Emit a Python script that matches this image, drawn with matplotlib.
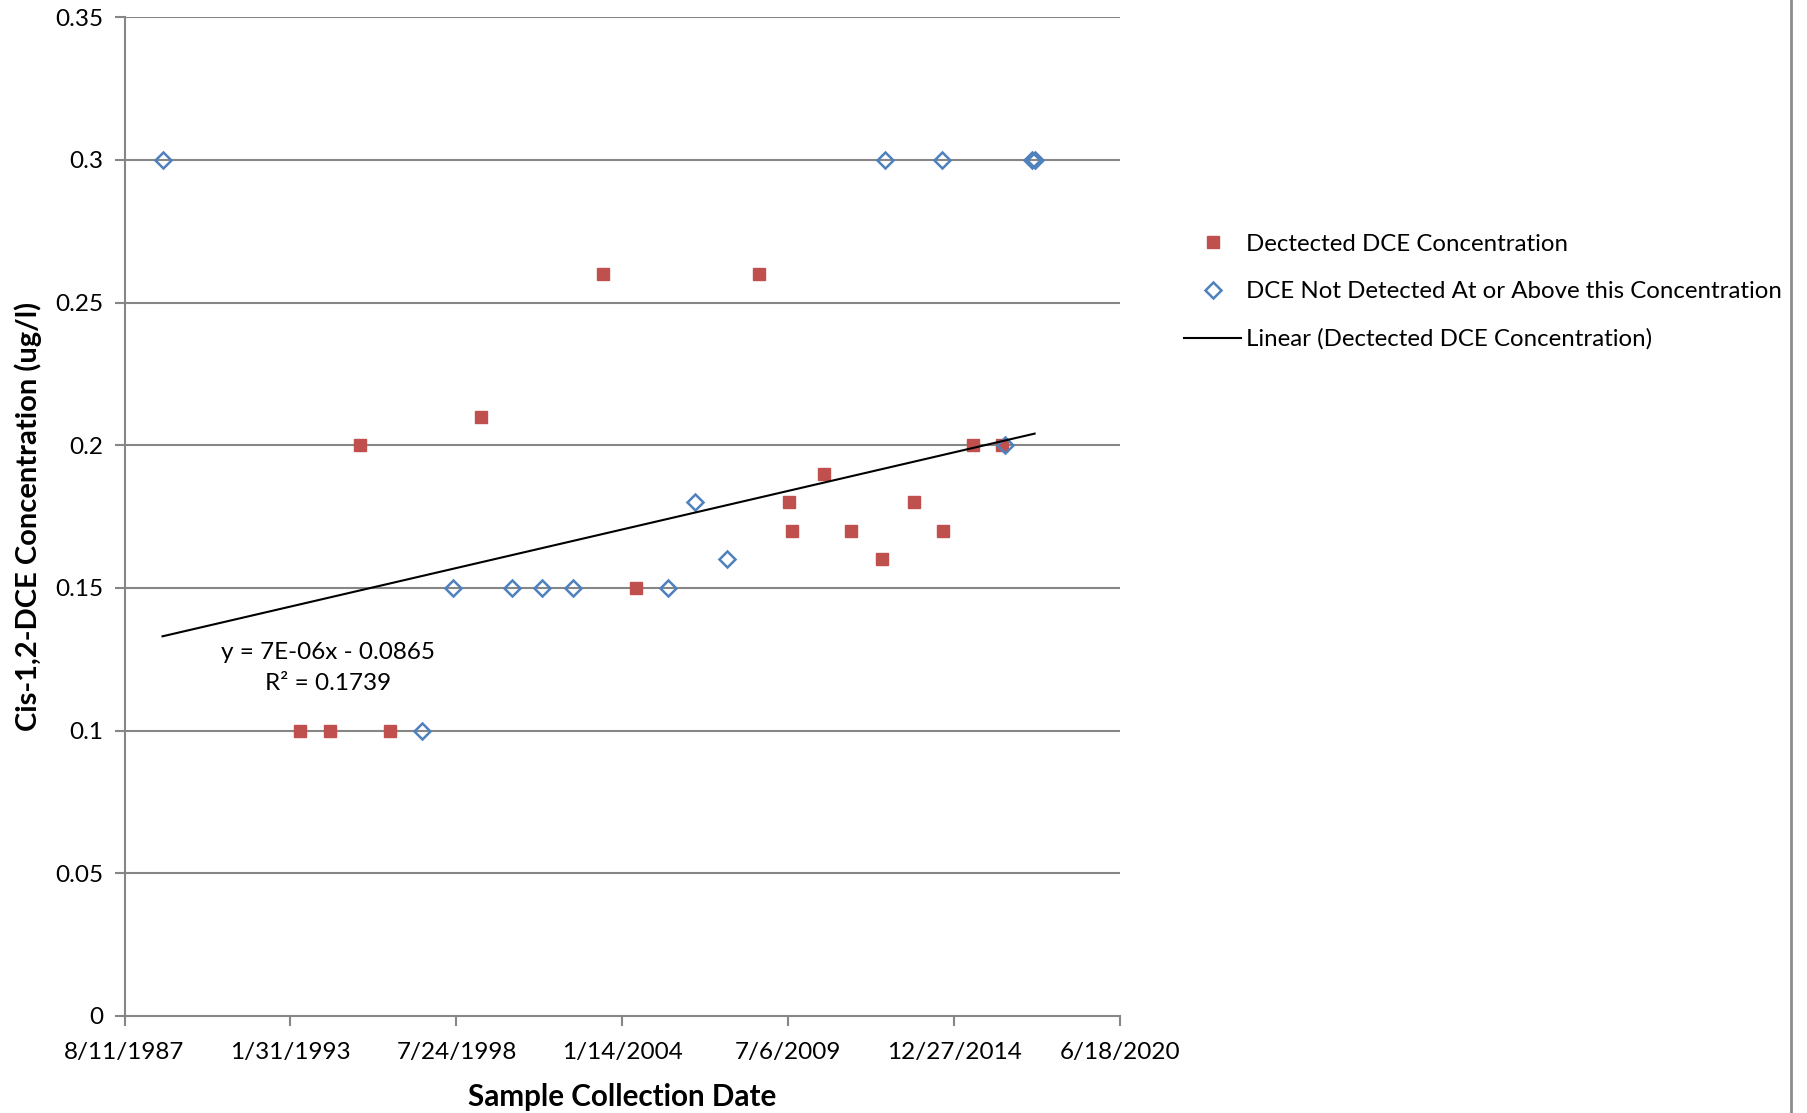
import matplotlib
matplotlib.use('Agg')
import matplotlib.pyplot as plt
import matplotlib.dates as mdates
from matplotlib.lines import Line2D
import numpy as np

plt.rcParams['font.family'] = ['Lato', 'DejaVu Sans']

# detected samples (red squares)
det_dates = ['1993-05-20', '1994-05-20', '1995-05-15', '1996-05-20', '1999-05-10',
             '2003-05-20', '2004-06-25', '2008-07-20', '2009-07-15', '2009-08-15',
             '2010-09-10', '2011-07-25', '2012-08-01', '2013-08-25', '2014-08-10',
             '2015-08-05', '2016-07-25']
det_vals = [0.10, 0.10, 0.20, 0.10, 0.21, 0.26, 0.15, 0.26, 0.18, 0.17,
            0.19, 0.17, 0.16, 0.18, 0.17, 0.20, 0.20]

# not detected (blue diamonds, reporting limit)
nd_dates = ['1988-11-11', '1997-06-01', '1998-06-15', '2000-05-20', '2001-05-15',
            '2002-05-25', '2005-07-20', '2006-06-05', '2007-07-01', '2012-09-15',
            '2014-07-25', '2016-08-25', '2017-07-25', '2017-08-20']
nd_vals = [0.30, 0.10, 0.15, 0.15, 0.15, 0.15, 0.15, 0.18, 0.16, 0.30,
           0.30, 0.20, 0.30, 0.30]

tick_dates = ['1987-08-11', '1993-01-31', '1998-07-24', '2004-01-14',
              '2009-07-06', '2014-12-27', '2020-06-18']
y_ticks = [0, 0.05, 0.1, 0.15, 0.2, 0.25, 0.3, 0.35]

xd = mdates.datestr2num(det_dates)
xn = mdates.datestr2num(nd_dates)
xt = mdates.datestr2num(tick_dates)

fig = plt.figure(figsize=(18.07, 11.13), dpi=100)
ax = fig.add_axes([0.0689, 0.0872, 0.5511, 0.8973])

grid_c = '#868686'
for v in y_ticks[1:]:
    ax.axhline(v, color=grid_c, lw=1.5, zorder=1)

ax.plot(xd, det_vals, 's', color='#C0504D', ms=8.5, mec='#C0504D', ls='none',
        label='Dectected DCE Concentration', zorder=3)
ax.plot(xn, nd_vals, 'D', mfc='none', mec='#4F81BD', mew=1.8, ms=8.5, ls='none',
        label='DCE Not Detected At or Above this Concentration', zorder=4)

# linear trendline of detected series
k, b = np.polyfit(xd, det_vals, 1)
allx = np.concatenate([xd, xn])
tx = np.array([allx.min(), allx.max()])
ax.plot(tx, k * tx + b, color='black', lw=1.5, zorder=5,
        label='Linear (Dectected DCE Concentration)')

ax.text(mdates.datestr2num('1994-05-01'), 0.122, 'y = 7E-06x - 0.0865\nR² = 0.1739',
        ha='center', va='center', fontsize=17.5, linespacing=1.55)

ax.set_xlim(xt[0], xt[-1])
ax.set_ylim(0, 0.35)
ax.set_xticks(xt)
ax.set_xticklabels([f'{d.month}/{d.day}/{d.year}' for d in mdates.num2date(xt)])
ax.set_yticks(y_ticks)
ax.set_yticklabels(['0', '0.05', '0.1', '0.15', '0.2', '0.25', '0.3', '0.35'])
ax.tick_params(axis='both', labelsize=17.5, color=grid_c, width=1.5, length=7, direction='out')
ax.tick_params(axis='x', pad=12)
ax.tick_params(axis='y', pad=8)

for s in ['top', 'right']:
    ax.spines[s].set_visible(False)
for s in ['left', 'bottom']:
    ax.spines[s].set_color(grid_c)
    ax.spines[s].set_linewidth(1.5)

ax.set_xlabel('Sample Collection Date', fontsize=21.3, fontweight='bold', labelpad=14)
ax.set_ylabel('Cis-1,2-DCE Concentration (ug/l)', fontsize=21, fontweight='bold', labelpad=10)

leg = ax.legend(loc='upper left', bbox_to_anchor=(1.042, 0.805), frameon=False,
                fontsize=17.3, handlelength=2.4, handletextpad=0.2, labelspacing=1.1)

# outer chart border on the right
fig.add_artist(Line2D([0.9913, 0.9913], [0, 1], color='#8c8c8c', lw=2))

fig.savefig('out.png', dpi=100)
